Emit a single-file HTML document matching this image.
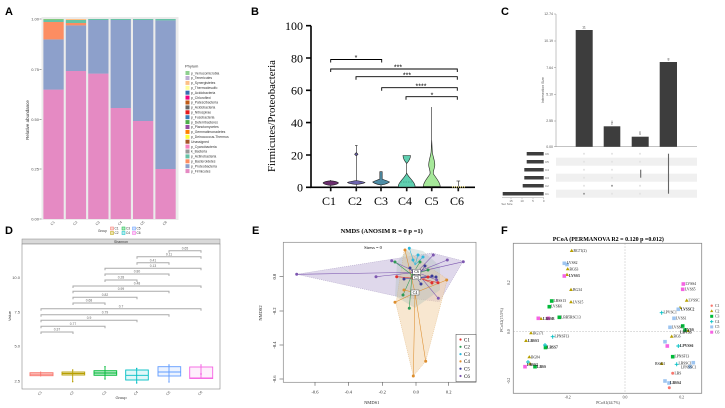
<!DOCTYPE html>
<html><head><meta charset="utf-8"><style>html,body{margin:0;padding:0;background:#fff}svg{display:block}</style></head>
<body>
<svg width="725" height="408" viewBox="0 0 725 408" xmlns="http://www.w3.org/2000/svg">
<rect width="725" height="408" fill="#fff"/>
<g font-family="Liberation Sans, sans-serif" font-weight="bold" font-size="11" fill="#000">
<text x="5" y="15">A</text><text x="251" y="15">B</text><text x="501" y="15">C</text>
<text x="5" y="234">D</text><text x="252" y="234">E</text><text x="501" y="234">F</text>
</g>

<!-- ===== Panel A ===== -->
<rect x="41.5" y="17" width="137" height="203" fill="#ebebeb"/>
<g>
<rect x="43.4" y="89.6" width="20.3" height="129.4" fill="#E58AC3"/>
<rect x="43.4" y="39.4" width="20.3" height="50.2" fill="#8DA0CB"/>
<rect x="43.4" y="22" width="20.3" height="17.4" fill="#FC8D62"/>
<rect x="43.4" y="20" width="20.3" height="2" fill="#66C2A5"/>
<rect x="43.4" y="19" width="20.3" height="1" fill="#7FC97F"/>
<rect x="65.8" y="71" width="20.3" height="148" fill="#E58AC3"/>
<rect x="65.8" y="25.4" width="20.3" height="45.6" fill="#8DA0CB"/>
<rect x="65.8" y="23" width="20.3" height="2.4" fill="#FC8D62"/>
<rect x="65.8" y="20" width="20.3" height="3" fill="#66C2A5"/>
<rect x="65.8" y="19" width="20.3" height="1" fill="#FDC086"/>
<rect x="88.2" y="73.6" width="20.3" height="145.4" fill="#E58AC3"/>
<rect x="88.2" y="20" width="20.3" height="53.6" fill="#8DA0CB"/>
<rect x="88.2" y="19" width="20.3" height="1" fill="#66C2A5"/>
<rect x="110.6" y="108" width="20.3" height="111" fill="#E58AC3"/>
<rect x="110.6" y="20" width="20.3" height="88" fill="#8DA0CB"/>
<rect x="110.6" y="19" width="20.3" height="1" fill="#66C2A5"/>
<rect x="133" y="121" width="20.3" height="98" fill="#E58AC3"/>
<rect x="133" y="20" width="20.3" height="101" fill="#8DA0CB"/>
<rect x="133" y="19" width="20.3" height="1" fill="#66C2A5"/>
<rect x="155.4" y="169" width="20.3" height="50" fill="#E58AC3"/>
<rect x="155.4" y="20.4" width="20.3" height="148.6" fill="#8DA0CB"/>
<rect x="155.4" y="19" width="20.3" height="1.4" fill="#66C2A5"/>
</g>
<g font-family="Liberation Sans, sans-serif" font-size="4" fill="#4d4d4d" text-anchor="end">
<text x="39" y="20.5">1.00</text><text x="39" y="71">0.75</text><text x="39" y="121">0.50</text><text x="39" y="170.5">0.25</text><text x="39" y="220.5">0.00</text>
</g>
<g stroke="#4d4d4d" stroke-width="0.5"><path d="M39.5 19H41.5M39.5 69.5H41.5M39.5 119.5H41.5M39.5 169H41.5M39.5 219H41.5"/></g>
<text transform="translate(29,120) rotate(-90)" font-family="Liberation Sans, sans-serif" font-size="4.5" fill="#333" text-anchor="middle">Relative abundance</text>
<g font-family="Liberation Sans, sans-serif" font-size="3.5" fill="#4d4d4d" text-anchor="middle">
<text transform="translate(53.5,224) rotate(-45)">C1</text><text transform="translate(76,224) rotate(-45)">C2</text><text transform="translate(98.4,224) rotate(-45)">C3</text><text transform="translate(120.8,224) rotate(-45)">C4</text><text transform="translate(143.2,224) rotate(-45)">C5</text><text transform="translate(165.6,224) rotate(-45)">C6</text>
</g>
<g font-family="Liberation Sans, sans-serif" font-size="3.2" fill="#333">
<text x="98" y="232">Group</text>
<rect x="110.5" y="227" width="3" height="3" fill="#fbd3d0" stroke="#F8766D" stroke-width="0.5"/><text x="114.5" y="229.6">C1</text>
<rect x="122" y="227" width="3" height="3" fill="#b3e6c3" stroke="#00BA38" stroke-width="0.5"/><text x="126" y="229.6">C3</text>
<rect x="132.5" y="227" width="3" height="3" fill="#cfe0ff" stroke="#619CFF" stroke-width="0.5"/><text x="136.5" y="229.6">C5</text>
<rect x="110.5" y="231.5" width="3" height="3" fill="#eee3a8" stroke="#B79F00" stroke-width="0.5"/><text x="114.5" y="234.1">C2</text>
<rect x="122" y="231.5" width="3" height="3" fill="#b3ecee" stroke="#00BFC4" stroke-width="0.5"/><text x="126" y="234.1">C4</text>
<rect x="132.5" y="231.5" width="3" height="3" fill="#fcd0f6" stroke="#F564E3" stroke-width="0.5"/><text x="136.5" y="234.1">C6</text>
</g>
<g font-family="Liberation Sans, sans-serif" font-size="3.4" fill="#333">
<text x="185" y="67.5" font-size="4">Phylum</text>
<rect x="185.5" y="71" width="4" height="4" fill="#8FD08F"/><text x="191" y="74.3">p_Verrucomicrobia</text>
<rect x="185.5" y="76" width="4" height="4" fill="#BEAED4"/><text x="191" y="79.2">p_Tenericutes</text>
<rect x="185.5" y="80.9" width="4" height="4" fill="#FDC086"/><text x="191" y="84.1">p_Synergistetes</text>
<rect x="185.5" y="85.8" width="4" height="4" fill="#FFFF99"/><text x="191" y="89">p_Thermodesulfo</text>
<rect x="185.5" y="90.7" width="4" height="4" fill="#386CB0"/><text x="191" y="93.9">p_Acidobacteria</text>
<rect x="185.5" y="95.6" width="4" height="4" fill="#F0027F"/><text x="191" y="98.8">p_Chloroflexi</text>
<rect x="185.5" y="100.5" width="4" height="4" fill="#BF5B17"/><text x="191" y="103.7">p_Patescibacteria</text>
<rect x="185.5" y="105.4" width="4" height="4" fill="#666666"/><text x="191" y="108.6">p_Acidobacteria</text>
<rect x="185.5" y="110.3" width="4" height="4" fill="#E41A1C"/><text x="191" y="113.5">p_Nitrospirae</text>
<rect x="185.5" y="115.2" width="4" height="4" fill="#377EB8"/><text x="191" y="118.4">p_Fusobacteria</text>
<rect x="185.5" y="120.1" width="4" height="4" fill="#4DAF4A"/><text x="191" y="123.3">p_Deferribacteres</text>
<rect x="185.5" y="125" width="4" height="4" fill="#984EA3"/><text x="191" y="128.2">p_Planctomycetes</text>
<rect x="185.5" y="129.9" width="4" height="4" fill="#FF7F00"/><text x="191" y="133.1">p_Gemmatimonadetes</text>
<rect x="185.5" y="134.8" width="4" height="4" fill="#FFFF33"/><text x="191" y="138">p_Deinococcus-Thermus</text>
<rect x="185.5" y="139.7" width="4" height="4" fill="#A65628"/><text x="191" y="142.9">Unassigned</text>
<rect x="185.5" y="144.6" width="4" height="4" fill="#F781BF"/><text x="191" y="147.8">p_Cyanobacteria</text>
<rect x="185.5" y="149.5" width="4" height="4" fill="#999999"/><text x="191" y="152.7">k_Bacteria</text>
<rect x="185.5" y="154.4" width="4" height="4" fill="#66C2A5"/><text x="191" y="157.6">p_Actinobacteria</text>
<rect x="185.5" y="159.3" width="4" height="4" fill="#FC8D62"/><text x="191" y="162.5">p_Bacteroidetes</text>
<rect x="185.5" y="164.2" width="4" height="4" fill="#8DA0CB"/><text x="191" y="167.4">p_Proteobacteria</text>
<rect x="185.5" y="169.1" width="4" height="4" fill="#E58AC3"/><text x="191" y="172.3">p_Firmicutes</text>
</g>

<!-- ===== Panel B ===== -->
<g stroke="#000" stroke-width="1.6" fill="none">
<path d="M311 25.7V187.3H475"/>
<path d="M306 25.7H311M306 58H311M306 90.3H311M306 122.6H311M306 155H311M306 187.3H311"/>
<path d="M330.7 187.3v4M356.3 187.3v4M381 187.3v4M406.7 187.3v4M431.7 187.3v4M458.3 187.3v4"/>
</g>
<g font-family="Liberation Serif, serif" font-size="12" fill="#000" text-anchor="end">
<text x="303" y="30">100</text><text x="303" y="62.3">80</text><text x="303" y="94.6">60</text><text x="303" y="127">40</text><text x="303" y="159.3">20</text><text x="303" y="191.6">0</text>
</g>
<g font-family="Liberation Serif, serif" font-size="12" fill="#000" text-anchor="middle">
<text x="329" y="205">C1</text><text x="355" y="205">C2</text><text x="381" y="205">C3</text><text x="405" y="205">C4</text><text x="431.5" y="205">C5</text><text x="457" y="205">C6</text>
</g>
<text transform="translate(275,116) rotate(-90)" font-family="Liberation Serif, serif" font-size="11" text-anchor="middle" textLength="112" lengthAdjust="spacingAndGlyphs">Firmicutes/Proteobacteria</text>
<g stroke="#000" stroke-width="0.9" fill="none">
<path d="M330.7 62.5V59.5H381.7V62.5"/>
<path d="M330.7 72V69H457.3V72"/>
<path d="M356 79.7V76.7H457.3V79.7"/>
<path d="M381.7 90.7V87.7H457.3V90.7"/>
<path d="M406 99.7V96.7H457.3V99.7"/>
</g>
<g font-family="Liberation Sans, sans-serif" font-size="7" fill="#000" text-anchor="middle">
<text x="356" y="60">*</text><text x="398" y="69.5">***</text><text x="407" y="77.5">***</text><text x="421" y="88.5">****</text><text x="432" y="97.5">*</text>
</g>
<g stroke="#222" stroke-width="0.6">
<line x1="330.7" y1="180" x2="330.7" y2="191"/>
<path d="M330.7 180.8C334 181 338 182 338.5 183C338 184 334 185 330.7 185.5C327 185 323.5 184 323 183C323.5 182 327 181 330.7 180.8Z" fill="#6B2E6E"/>
<line x1="356.3" y1="145.5" x2="356.3" y2="191"/>
<line x1="355" y1="145.5" x2="357.6" y2="145.5"/>
<path d="M356.3 152.5L358 154.3L356.3 156L354.6 154.3Z" fill="#6C63AD"/>
<path d="M356.3 180.5C359 181 364 181.8 365 182.5C364 183.3 359 184.2 356.3 184.5C353.5 184.2 348.5 183.3 347.5 182.5C348.5 181.8 353.5 181 356.3 180.5Z" fill="#6C63AD"/>
<line x1="381" y1="171.5" x2="381" y2="191"/>
<path d="M379.8 171.7H382.2V179C384 180 388 181 389.5 182C388 183.5 384 184.5 381 185C378 184.5 374 183.5 372.7 182C374 181 378 180 379.8 179Z" fill="#4E8DA6"/>
<line x1="406.7" y1="163" x2="406.7" y2="191"/>
<path d="M406.7 173C408 177 414 181 415 185.5L415 187H398.3L398.3 185.5C399.5 181 405.5 177 406.7 173Z" fill="#5FCFB0"/>
<path d="M403 155.5H410.5C410.5 159 408.5 161.5 406.7 163.5C405 161.5 403 159 403 155.5Z" fill="#5FCFB0"/>
<line x1="400.5" y1="182" x2="413" y2="182" stroke-dasharray="1.5 1" stroke="#2a8a72"/>
<line x1="431.7" y1="107" x2="431.7" y2="191"/>
<path d="M431.7 140L432.3 152C433 157 435 161 434.8 165.5C434.5 169 432.8 171 433.5 174C436 178 440 182 440.3 186.5L423.2 186.5C423.4 182 427.5 178 430 174C430.6 171 429 169 428.7 165.5C428.5 161 430.4 157 431.1 152Z" fill="#A6E89A"/>
<line x1="458.3" y1="181" x2="458.3" y2="191"/>
<line x1="456.5" y1="181" x2="460.1" y2="181"/>
</g>
<line x1="452" y1="187" x2="465" y2="187" stroke="#f0e27a" stroke-width="1.2" stroke-dasharray="1 1"/>

<!-- ===== Panel C ===== -->
<g stroke="#888" stroke-width="0.5" fill="none"><path d="M556 14V146.7H697"/>
<path d="M554 14H556M554 41H556M554 67.7H556M554 94.3H556M554 121H556M554 146.7H556"/></g>
<g font-family="Liberation Sans, sans-serif" font-size="3.5" fill="#555" text-anchor="end">
<text x="553" y="15.2">12.74</text><text x="553" y="42.2">10.19</text><text x="553" y="68.9">7.64</text><text x="553" y="95.5">5.10</text><text x="553" y="122.2">2.55</text><text x="553" y="147.9">0.00</text>
</g>
<text transform="translate(544,90) rotate(-90)" font-family="Liberation Sans, sans-serif" font-size="3.5" fill="#555" text-anchor="middle">Intersection Size</text>
<g fill="#3d3d3d">
<rect x="575.7" y="30" width="17" height="116.7"/>
<rect x="603.7" y="126.3" width="16.6" height="20.4"/>
<rect x="631.7" y="136.7" width="17" height="10"/>
<rect x="659.7" y="62" width="17.3" height="84.7"/>
</g>
<g font-family="Liberation Sans, sans-serif" font-size="3.5" fill="#444" text-anchor="middle">
<text x="584" y="28.5">11</text><text x="612" y="124.5">2</text><text x="640" y="135">1</text><text x="668.5" y="60.5">8</text>
</g>
<g stroke="#555" stroke-width="0.5"><path d="M612 123.5v-3M640 134v-3"/></g>
<g fill="#f0f0f0">
<rect x="556" y="157.7" width="141" height="8"/><rect x="556" y="173.7" width="141" height="8"/><rect x="556" y="189.7" width="141" height="8"/>
</g>
<g fill="#e2e2e2">
<circle cx="584" cy="153.7" r="1"/><circle cx="612" cy="153.7" r="1"/><circle cx="640" cy="153.7" r="1"/>
<circle cx="584" cy="161.7" r="1"/><circle cx="612" cy="161.7" r="1"/><circle cx="640" cy="161.7" r="1"/>
<circle cx="584" cy="169.7" r="1"/><circle cx="612" cy="169.7" r="1"/>
<circle cx="584" cy="177.7" r="1"/><circle cx="612" cy="177.7" r="1"/>
<circle cx="584" cy="185.7" r="1"/><circle cx="640" cy="185.7" r="1"/>
<circle cx="612" cy="193.7" r="1"/><circle cx="640" cy="193.7" r="1"/>
</g>
<g fill="#999"><circle cx="584" cy="193.7" r="1"/><circle cx="612" cy="185.7" r="1"/></g>
<g stroke="#666" stroke-width="1.1"><line x1="668.5" y1="153.7" x2="668.5" y2="193.7"/><line x1="640.7" y1="169.7" x2="640.7" y2="177.7"/></g>
<g fill="#3d3d3d">
<rect x="526.7" y="152" width="17" height="3.5"/>
<rect x="526.7" y="160" width="17" height="3.5"/>
<rect x="524.3" y="168" width="19.4" height="3.5"/>
<rect x="524.3" y="176" width="19.4" height="3.5"/>
<rect x="522.7" y="184" width="21" height="3.5"/>
<rect x="502.7" y="192" width="41" height="3.5"/>
</g>
<g font-family="Liberation Sans, sans-serif" font-size="3" fill="#666">
<text x="545" y="155">C6</text><text x="545" y="163">C5</text><text x="545" y="171">C4</text><text x="545" y="179">C3</text><text x="545" y="187">C2</text><text x="545" y="195">C1</text>
</g>
<g stroke="#888" stroke-width="0.4"><path d="M502 197.7H544M511 197.7v1.5M522 197.7v1.5M533 197.7v1.5M543.7 197.7v1.5"/></g>
<g font-family="Liberation Sans, sans-serif" font-size="3" fill="#666" text-anchor="middle">
<text x="511" y="202">15</text><text x="522" y="202">10</text><text x="533" y="202">5</text><text x="543.7" y="202">0</text>
<text x="507" y="205">Set Size</text>
</g>

<!-- ===== Panel D ===== -->
<rect x="22" y="239" width="198" height="5" fill="#d9d9d9" stroke="#888" stroke-width="0.5"/>
<text x="121" y="242.8" font-family="Liberation Sans, sans-serif" font-size="3.5" fill="#333" text-anchor="middle">Shannon</text>
<rect x="22" y="244" width="198" height="145" fill="#fff" stroke="#888" stroke-width="0.6"/>
<g font-family="Liberation Sans, sans-serif" font-size="4" fill="#4d4d4d" text-anchor="end">
<text x="20" y="279">10.0</text><text x="20" y="313.3">7.5</text><text x="20" y="347.3">5.0</text><text x="20" y="382.3">2.5</text>
</g>
<text transform="translate(11,316) rotate(-90)" font-family="Liberation Sans, sans-serif" font-size="4" fill="#333" text-anchor="middle">Value</text>
<g font-family="Liberation Sans, sans-serif" font-size="3.5" fill="#4d4d4d" text-anchor="middle">
<text transform="translate(40.7,394) rotate(-45)">C1</text><text transform="translate(72.7,394) rotate(-45)">C2</text><text transform="translate(105,394) rotate(-45)">C3</text><text transform="translate(136.7,394) rotate(-45)">C4</text><text transform="translate(169,394) rotate(-45)">C5</text><text transform="translate(201,394) rotate(-45)">C6</text>
</g>
<text x="121" y="399" font-family="Liberation Sans, sans-serif" font-size="4" fill="#333" text-anchor="middle">Group</text>
<g stroke="#aaa" stroke-width="1" fill="none">
<path d="M169 252.7V250.7H201V252.7"/><path d="M137 258.7V256.7H201V258.7"/><path d="M137 264.7V262.7H169V264.7"/>
<path d="M105 270.3V268.3H201V270.3"/><path d="M105 276V274H169V276"/><path d="M105 282V280H137V282"/>
<path d="M73 288V286H201V288"/><path d="M73 293.3V291.3H169V293.3"/><path d="M73 299.3V297.3H137V299.3"/>
<path d="M73 305V303H105V305"/><path d="M41 310.7V308.7H201V310.7"/><path d="M41 316.7V314.7H169V316.7"/>
<path d="M41 322.3V320.3H137V322.3"/><path d="M41 328.3V326.3H105V328.3"/><path d="M41 334V332H73V334"/>
</g>
<g font-family="Liberation Sans, sans-serif" font-size="3.3" fill="#666" text-anchor="middle">
<text x="185" y="249.3">0.65</text><text x="169" y="255.3">0.11</text><text x="153" y="261.3">0.41</text>
<text x="153" y="266.9">0.13</text><text x="137" y="272.6">0.80</text><text x="121" y="278.6">0.28</text>
<text x="137" y="284.6">0.48</text><text x="121" y="289.9">0.99</text><text x="105" y="295.9">0.82</text>
<text x="89" y="301.6">0.68</text><text x="121" y="307.3">0.7</text><text x="105" y="313.3">0.79</text>
<text x="89" y="318.9">0.9</text><text x="73" y="324.9">0.77</text><text x="57" y="330.6">0.37</text>
</g>
<g stroke-width="0.9">
<g stroke="#F8766D"><line x1="40.7" y1="371.5" x2="40.7" y2="376.5"/><rect x="30" y="372.7" width="23" height="3" fill="#F8766D" fill-opacity="0.25"/><line x1="30" y1="374.2" x2="53" y2="374.2"/></g>
<g stroke="#B79F00"><line x1="72.7" y1="370" x2="72.7" y2="381.7"/><rect x="62" y="372" width="22.7" height="3" fill="#B79F00" fill-opacity="0.25"/><line x1="62" y1="373.5" x2="84.7" y2="373.5"/></g>
<g stroke="#00BA38"><line x1="105" y1="366.7" x2="105" y2="379"/><rect x="94" y="370.7" width="22.7" height="4.6" fill="#00BA38" fill-opacity="0.3"/><line x1="94" y1="373" x2="116.7" y2="373"/></g>
<g stroke="#00BFC4"><line x1="136.7" y1="368" x2="136.7" y2="383"/><rect x="125.7" y="370" width="22.6" height="10" fill="#00BFC4" fill-opacity="0.12"/><line x1="125.7" y1="375.3" x2="148.3" y2="375.3"/></g>
<g stroke="#619CFF"><line x1="169" y1="365" x2="169" y2="382"/><rect x="158" y="366.7" width="22.7" height="9.3" fill="#619CFF" fill-opacity="0.12"/><line x1="158" y1="372" x2="180.7" y2="372"/></g>
<g stroke="#F564E3"><line x1="201" y1="365" x2="201" y2="378"/><rect x="189.7" y="367" width="23" height="11.5" fill="#F564E3" fill-opacity="0.1"/><line x1="189.7" y1="378" x2="212.7" y2="378"/></g>
</g>
<g>
<circle cx="72.7" cy="381.7" r="0.7" fill="#B79F00"/><circle cx="72.7" cy="370" r="0.7" fill="#B79F00"/>
<circle cx="105" cy="366.7" r="0.7" fill="#00BA38"/><circle cx="105" cy="379" r="0.7" fill="#00BA38"/>
<circle cx="136.7" cy="368.5" r="0.7" fill="#00BFC4"/><circle cx="136.7" cy="383" r="0.7" fill="#00BFC4"/>
<circle cx="169" cy="365" r="0.7" fill="#619CFF"/><circle cx="169" cy="382" r="0.7" fill="#619CFF"/>
<circle cx="201" cy="365" r="0.7" fill="#F564E3"/><circle cx="201" cy="374" r="0.9" fill="#F564E3"/>
</g>

<!-- ===== Panel E ===== -->
<text x="381.7" y="233" font-family="Liberation Serif, serif" font-weight="bold" font-size="6.5" text-anchor="middle">NMDS (ANOSIM R = 0 p =1)</text>
<rect x="283.3" y="242.3" width="192.7" height="140" fill="#fff" stroke="#888" stroke-width="0.7"/>
<polygon points="296.7,274.3 390,259.5 432,253 463.3,261 439.3,301.7 400,297" fill="#b9a9d3" fill-opacity="0.45" stroke="#9a8bb8" stroke-width="0.4" stroke-dasharray="1 1"/>
<polygon points="404.3,249.3 447.3,279.3 425.7,361.3 413.3,376 396,303.7" fill="#f2d3a9" fill-opacity="0.55" stroke="#d9a96a" stroke-width="0.4" stroke-dasharray="1 1"/>
<polygon points="397,262 409,248 423,251 440,266 440,290 415,308 395,296" fill="#a8bdb8" fill-opacity="0.35"/>
<text x="373" y="249" font-family="Liberation Serif, serif" font-size="4.5" text-anchor="middle">Stress = 0</text>
<g stroke-width="0.55">
<g stroke="#7D57B0"><path d="M416.7 272.3L296.7 274.3M416.7 272.3L376 276.7M416.7 272.3L391.7 260.7M416.7 272.3L433.3 255M416.7 272.3L447.3 260M416.7 272.3L463.3 261.7M416.7 272.3L438.3 298.3M416.7 272.3L436.7 280"/></g>
<g stroke="#3B3B98"><path d="M416.7 277.7L410 268M416.7 277.7L425 266M416.7 277.7L432 276M416.7 277.7L404 279M416.7 277.7L421 284M416.7 277.7L436 277"/></g>
<g stroke="#DD8E2E"><path d="M415 292.7L405 250M415 292.7L395 302.3M415 292.7L446.7 280M415 292.7L413.3 376M415 292.7L425.7 361.3M415 292.7L404 290"/></g>
<g stroke="#2EB8DB"><path d="M415 265L409.3 248.3M415 265L418 255M415 265L413 260M415 265L423 257"/></g>
<g stroke="#2E9B55"><path d="M412 275L395 262M412 275L409.3 308.3M412 275L403 295M412 275L420 262M412 275L428 270"/></g>
<g stroke="#E0302E"><path d="M422 279L396.7 276.7M422 279L438 282.7M422 279L432 283M422 279L428 277"/></g>
</g>
<g>
<g fill="#7D57B0"><circle cx="296.7" cy="274.3" r="1.5"/><circle cx="376" cy="276.7" r="1.5"/><circle cx="391.7" cy="260.7" r="1.5"/><circle cx="433.3" cy="255" r="1.5"/><circle cx="447.3" cy="260" r="1.5"/><circle cx="463.3" cy="261.7" r="1.5"/><circle cx="438.3" cy="298.3" r="1.5"/><circle cx="436.7" cy="280" r="1.5"/></g>
<g fill="#3B3B98"><circle cx="410" cy="268" r="1.5"/><circle cx="425" cy="266" r="1.5"/><circle cx="432" cy="276" r="1.5"/><circle cx="404" cy="279" r="1.5"/><circle cx="421" cy="284" r="1.5"/><circle cx="436" cy="277" r="1.5"/></g>
<g fill="#DD8E2E"><circle cx="405" cy="250" r="1.5"/><circle cx="395" cy="302.3" r="1.5"/><circle cx="446.7" cy="280" r="1.5"/><circle cx="413.3" cy="376" r="1.5"/><circle cx="425.7" cy="361.3" r="1.5"/><circle cx="404" cy="290" r="1.5"/></g>
<g fill="#2EB8DB"><circle cx="409.3" cy="248.3" r="1.5"/><circle cx="418" cy="255" r="1.5"/><circle cx="413" cy="260" r="1.5"/><circle cx="423" cy="257" r="1.5"/></g>
<g fill="#2E9B55"><circle cx="395" cy="262" r="1.5"/><circle cx="409.3" cy="308.3" r="1.5"/><circle cx="403" cy="295" r="1.5"/><circle cx="420" cy="262" r="1.5"/><circle cx="428" cy="270" r="1.5"/></g>
<g fill="#E0302E"><circle cx="396.7" cy="276.7" r="1.5"/><circle cx="438" cy="282.7" r="1.5"/><circle cx="432" cy="283" r="1.5"/><circle cx="428" cy="277" r="1.5"/></g>
</g>
<g font-family="Liberation Serif, serif" font-size="4" text-anchor="middle">
<rect x="412.7" y="269.3" width="8" height="5" fill="#fff" stroke="#333" stroke-width="0.4"/><text x="416.7" y="273">C6</text>
<rect x="412.7" y="275.3" width="8" height="4.5" fill="#fff" stroke="#333" stroke-width="0.4"/><text x="416.7" y="278.9">C5</text>
<rect x="411" y="290" width="8" height="5" fill="#fff" stroke="#333" stroke-width="0.4"/><text x="415" y="293.8">C4</text>
</g>
<g stroke="#333" stroke-width="0.5"><path d="M279.5 276.7H283.3M279.5 311H283.3M279.5 345H283.3M279.5 379H283.3M315 382.3v3.5M348.3 382.3v3.5M382.3 382.3v3.5M416 382.3v3.5M448.7 382.3v3.5"/></g>
<g font-family="Liberation Serif, serif" font-size="4.5" fill="#222" text-anchor="middle">
<text transform="translate(276,276.7) rotate(-90)">0.0</text><text transform="translate(276,311) rotate(-90)">-0.2</text><text transform="translate(276,345) rotate(-90)">-0.4</text><text transform="translate(276,379) rotate(-90)">-0.6</text>
<text x="315" y="393.5">-0.6</text><text x="348.3" y="393.5">-0.4</text><text x="382.3" y="393.5">-0.2</text><text x="416" y="393.5">0.0</text><text x="448.7" y="393.5">0.2</text>
<text x="371.7" y="404">NMDS1</text>
<text transform="translate(262,313) rotate(-90)">NMDS2</text>
</g>
<rect x="456" y="334.3" width="20" height="47.4" fill="#fff" stroke="#444" stroke-width="0.5"/>
<g font-family="Liberation Serif, serif" font-size="5">
<circle cx="460.5" cy="339.5" r="1.1" fill="#E0302E"/><text x="464" y="341.3">C1</text>
<circle cx="460.5" cy="346.8" r="1.1" fill="#2E9B55"/><text x="464" y="348.6">C2</text>
<circle cx="460.5" cy="354.1" r="1.1" fill="#2EB8DB"/><text x="464" y="355.9">C3</text>
<circle cx="460.5" cy="361.4" r="1.1" fill="#DD8E2E"/><text x="464" y="363.2">C4</text>
<circle cx="460.5" cy="368.7" r="1.1" fill="#3B3B98"/><text x="464" y="370.5">C5</text>
<circle cx="460.5" cy="376" r="1.1" fill="#7D57B0"/><text x="464" y="377.8">C6</text>
</g>

<!-- ===== Panel F ===== -->
<text x="608.3" y="241" font-family="Liberation Serif, serif" font-weight="bold" font-size="6" text-anchor="middle">PCoA (PERMANOVA R2 = 0.120 p =0.012)</text>
<rect x="513.3" y="243.3" width="188.4" height="150" fill="#fff" stroke="#888" stroke-width="0.8"/>
<g stroke="#aaa" stroke-width="0.5" stroke-dasharray="1.5 1.5"><line x1="625" y1="243.3" x2="625" y2="393.3"/><line x1="513.3" y1="331.7" x2="701.7" y2="331.7"/></g>
<g font-family="Liberation Serif, serif" font-size="3.8" fill="#333" text-anchor="middle">
<text transform="translate(510,282.7) rotate(-90)">0.2</text><text transform="translate(510,331.7) rotate(-90)">0.0</text><text transform="translate(510,380.7) rotate(-90)">-0.2</text>
<text x="567.7" y="398.5">-0.2</text><text x="625" y="398.5">0.0</text><text x="681.7" y="398.5">0.2</text>
<text x="608" y="404">PCoA1(44.7%)</text>
<text transform="translate(503,320) rotate(-90)">PCoA2(15.5%)</text>
</g>
<g>
<g fill="#B79F00">
<path d="M571.7 248.8l1.9 3.2h-3.8z"/><path d="M567.7 267.1l1.9 3.2h-3.8z"/><path d="M567 272.8l1.9 3.2h-3.8z"/><path d="M571 287.8l1.9 3.2h-3.8z"/><path d="M571 300.1l1.9 3.2h-3.8z"/><path d="M541 316.8l1.9 3.2h-3.8z"/><path d="M531 331.1l1.9 3.2h-3.8z"/><path d="M526 338.8l1.9 3.2h-3.8z"/><path d="M529.3 355.1l1.9 3.2h-3.8z"/><path d="M530 361.8l1.9 3.2h-3.8z"/>
<path d="M686.7 298.5l1.9 3.2h-3.8z"/><path d="M680 305.8l1.9 3.2h-3.8z"/><path d="M688 328.8l1.9 3.2h-3.8z"/><path d="M671.7 334.5l1.9 3.2h-3.8z"/><path d="M661.7 361.8l1.9 3.2h-3.8z"/>
</g>
<g fill="#9EC5F0">
<rect x="562.5" y="261.5" width="3.6" height="3.6"/><rect x="565.2" y="262.7" width="3.6" height="3.6"/><rect x="676.5" y="307.5" width="3.6" height="3.6"/><rect x="672.2" y="316.5" width="3.6" height="3.6"/><rect x="668.2" y="325.5" width="3.6" height="3.6"/><rect x="663.2" y="339.9" width="3.6" height="3.6"/><rect x="688.2" y="364.9" width="3.6" height="3.6"/><rect x="691.5" y="360.9" width="3.6" height="3.6"/><rect x="663.2" y="379.2" width="3.6" height="3.6"/><rect x="667.2" y="381.2" width="3.6" height="3.6"/>
</g>
<g fill="#F564E3">
<rect x="562.5" y="274.2" width="3.6" height="3.6"/><rect x="536.5" y="316.5" width="3.6" height="3.6"/><rect x="546.5" y="316.5" width="3.6" height="3.6"/><rect x="523.2" y="364.9" width="3.6" height="3.6"/><rect x="681.5" y="282.2" width="3.6" height="3.6"/><rect x="680.9" y="287.5" width="3.6" height="3.6"/><rect x="665.5" y="344.2" width="3.6" height="3.6"/>
</g>
<g fill="#00BA38">
<rect x="549.9" y="299.2" width="3.6" height="3.6"/><rect x="547.5" y="304.9" width="3.6" height="3.6"/><rect x="557.5" y="315.5" width="3.6" height="3.6"/><rect x="543.7" y="345.7" width="3.6" height="3.6"/><rect x="533.2" y="364.9" width="3.6" height="3.6"/><rect x="680.9" y="324.2" width="3.6" height="3.6"/><rect x="683.2" y="328.2" width="3.6" height="3.6"/><rect x="670.9" y="354.9" width="3.6" height="3.6"/>
</g>
<g stroke="#00BFC4" stroke-width="0.9"><path d="M552.7 334.7v4M550.7 336.7h4M545 343v4M543 345h4M528 360v4M526 362h4M661.7 310.7v4M659.7 312.7h4M678.3 344v4M676.3 346h4M676.7 362.3v4M674.7 364.3h4"/></g>
<g fill="#F8766D"><circle cx="672.7" cy="373.3" r="1.5"/><circle cx="669.3" cy="387.7" r="1.5"/></g>
</g>
<g font-family="Liberation Serif, serif" font-size="3.7" fill="#222">
<text x="573.5" y="252">BG71(2)</text><text x="567" y="264">LVSS2</text><text x="569.5" y="270.3">BG63</text><text x="569" y="277" font-weight="bold">LVSS3</text>
<text x="573" y="291">BG34</text><text x="573" y="303.3">LVS15</text><text x="553.5" y="302">LBSS13</text><text x="551" y="307.7">LVSK6</text>
<text x="543" y="320" font-weight="bold">LBSSB</text><text x="561" y="318.3">LBB5RSC13</text><text x="533" y="334.3">BG171</text><text x="554.5" y="337.7">LPNSF13</text>
<text x="528" y="342" font-weight="bold">LBSS3</text><text x="547" y="348.5" font-weight="bold">LBSS7</text><text x="531" y="358.3">BG84</text>
<text x="527" y="366" font-weight="bold">LBSS2</text><text x="537" y="368.2" font-weight="bold">LBSS</text>
<text x="685.5" y="285">LVSS4</text><text x="685" y="290.3">LVSS5</text><text x="688.5" y="301.7">LVSSC</text>
<text x="681" y="310.3" font-weight="bold">LVSSC2</text><text x="663.5" y="313.7">LPVSC1</text><text x="676" y="319.3">LVSS1</text>
<text x="672" y="328.3">LVSSC</text><text x="685" y="331" font-weight="bold">LVSS</text><text x="680" y="333.5" font-weight="bold">LBVSS</text>
<text x="673.5" y="337.7">BG6</text><text x="680" y="347" font-weight="bold">LPVSS6</text><text x="674.5" y="357.7">LPNSF13</text>
<text x="655" y="365">BSS01</text><text x="678.5" y="364.3">LBSSC1</text><text x="681" y="368.5">LPNSSC1</text>
<text x="674.5" y="374.3">LBS</text><text x="670" y="384" font-weight="bold">LBSS4</text>
</g>
<g font-family="Liberation Serif, serif" font-size="3.8" fill="#333">
<circle cx="711.7" cy="305.7" r="1.2" fill="#F8766D"/><text x="715" y="307">C1</text>
<path d="M711.7 309.4l1.6 2.7h-3.2z" fill="#B79F00"/><text x="715" y="312.3">C2</text>
<rect x="710.2" y="314.8" width="3" height="3" fill="#00BA38"/><text x="715" y="317.6">C3</text>
<path d="M711.7 320v3.4M710 321.7h3.4" stroke="#00BFC4" stroke-width="0.8"/><text x="715" y="322.9">C4</text>
<rect x="710.2" y="325.4" width="3" height="3" fill="#9EC5F0"/><text x="715" y="328.2">C5</text>
<rect x="710.2" y="330.7" width="3" height="3" fill="#F564E3"/><text x="715" y="333.5">C6</text>
</g>
</svg>
</body></html>
